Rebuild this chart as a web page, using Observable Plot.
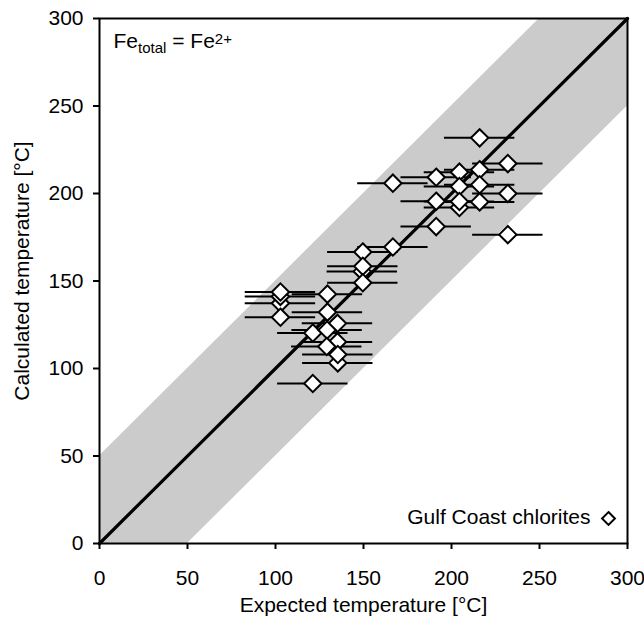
<!DOCTYPE html>
<html>
<head>
<meta charset="utf-8">
<script src="https://cdn.jsdelivr.net/npm/d3@7"></script>
<script src="https://cdn.jsdelivr.net/npm/@observablehq/plot@0.6"></script>
<style>
  html, body { margin: 0; padding: 0; background: #fff; }
</style>
</head>
<body>
<div id="chart"></div>
<script>
// Expected temperature (°C) and calculated temperature (°C), in drawing order
const expected = [216, 232, 204.5, 216, 191.3, 166.7, 204.5, 204.5, 216, 232, 191.3, 204.5, 216, 191.3, 232,
  166.7, 149.6, 149.3, 149.6, 149.6, 102.8, 102.8, 102.8, 102.8, 129.5, 129.5, 135.2, 121.2, 129.3, 135.2,
  129.1, 135.4, 135.4, 121.2];
const calculated = [231.8, 217.1, 212.2, 213.6, 209.3, 205.9, 192, 204, 205, 200, 195.6, 195.4, 195.2, 181.1, 176.5,
  169.4, 166.6, 155.5, 158.4, 149, 137.3, 141.2, 143.7, 129.3, 142.5, 132.2, 125.8, 120.3, 122, 115.2,
  112.6, 103.2, 108, 91.4];
const xErr = [20, 20, 20, 20, 20, 20, 20, 20, 20, 20, 20, 20, 20, 20, 20,
  20, 20, 20, 20, 20, 20, 20, 20, 20, 20, 20, 20, 20, 20, 20,
  20, 20, 20, 20];

// ±50 °C band around the 1:1 line
const bandX = [0, 50, 250, 300];
const bandLow = [0, 0, 200, 250];
const bandHigh = [50, 100, 300, 300];

// 1:1 line
const oneX = [0, 300];
const oneY = [0, 300];

const xTicks = [0, 50, 100, 150, 200, 250, 300];
const yTicks = [0, 50, 100, 150, 200, 250, 300];

const seriesName = "Gulf Coast chlorites";
const xLabel = "Expected temperature [°C]";
const yLabel = "Calculated temperature [°C]";

const idx = expected.map((_, i) => i);
const bandIdx = bandX.map((_, i) => i);

const FONT = "'Liberation Sans', Arial, Helvetica, sans-serif";

const chart = Plot.plot({
  width: 644,
  height: 626,
  marginLeft: 99,
  marginRight: 17,
  marginTop: 18,
  marginBottom: 83,
  style: { fontFamily: FONT, fontSize: "21px", color: "#000", background: "#fff", overflow: "visible" },
  x: { domain: [0, 300], label: null },
  y: { domain: [0, 300], label: null },
  marks: [
    Plot.areaY(bandIdx, { x: i => bandX[i], y1: i => bandLow[i], y2: i => bandHigh[i], fill: "#cbcbcb", curve: "linear" }),
    Plot.line(oneX.map((_, i) => i), { x: i => oneX[i], y: i => oneY[i], stroke: "#000", strokeWidth: 3.2 }),
    Plot.ruleY(idx, { y: i => calculated[i], x1: i => expected[i] - xErr[i], x2: i => expected[i] + xErr[i], stroke: "#000", strokeWidth: 2 }),
    Plot.dot(idx, { x: i => expected[i], y: i => calculated[i], symbol: "diamond2", r: 7.8, fill: "#fff", stroke: "#000", strokeWidth: 2 }),
    Plot.frame({ stroke: "#000", strokeWidth: 2 }),
    Plot.axisX({ ticks: xTicks, tickSize: 6, tickPadding: 21, strokeWidth: 2, fontSize: 21, label: null }),
    Plot.axisY({ ticks: yTicks, tickSize: 6, tickPadding: 10, strokeWidth: 2, fontSize: 21, label: null }),
    // axis titles
    Plot.text([xLabel], { frameAnchor: "bottom", text: d => d, textAnchor: "middle", dy: 68, fontSize: 21, fill: "#000" }),
    Plot.text([yLabel], { frameAnchor: "left", text: d => d, textAnchor: "middle", dx: -77, dy: -10, rotate: -90, fontSize: 21, fill: "#000" }),
    // legend
    Plot.text([seriesName], { frameAnchor: "bottom-right", text: d => d, textAnchor: "end", dx: -37, dy: -20, fontSize: 21, fill: "#000" }),
    Plot.dot([0], { frameAnchor: "bottom-right", dx: -19, dy: -25, symbol: "diamond2", r: 5.8, fill: "#fff", stroke: "#000", strokeWidth: 2 }),
    // annotation (rebuilt with sub/superscripts below)
    Plot.text(["FE_ANNOT"], { frameAnchor: "top-left", text: d => d, textAnchor: "start", lineAnchor: "top", dx: 14, dy: 15, fontSize: 21, fill: "#000" })
  ]
});

document.getElementById("chart").appendChild(chart);

// Build "Fe_total = Fe^2+" with real sub/superscripts
d3.select(chart).selectAll("text").filter(function () { return this.textContent === "FE_ANNOT"; })
  .each(function () {
    const t = d3.select(this);
    t.text(null);
    t.append("tspan").text("Fe");
    t.append("tspan").attr("font-size", 15).attr("dy", 5).text("total");
    t.append("tspan").attr("font-size", 21).attr("dy", -5).text(" = Fe");
    t.append("tspan").attr("font-size", 15).attr("dy", -4).text("2+");
  });
</script>
</body>
</html>
